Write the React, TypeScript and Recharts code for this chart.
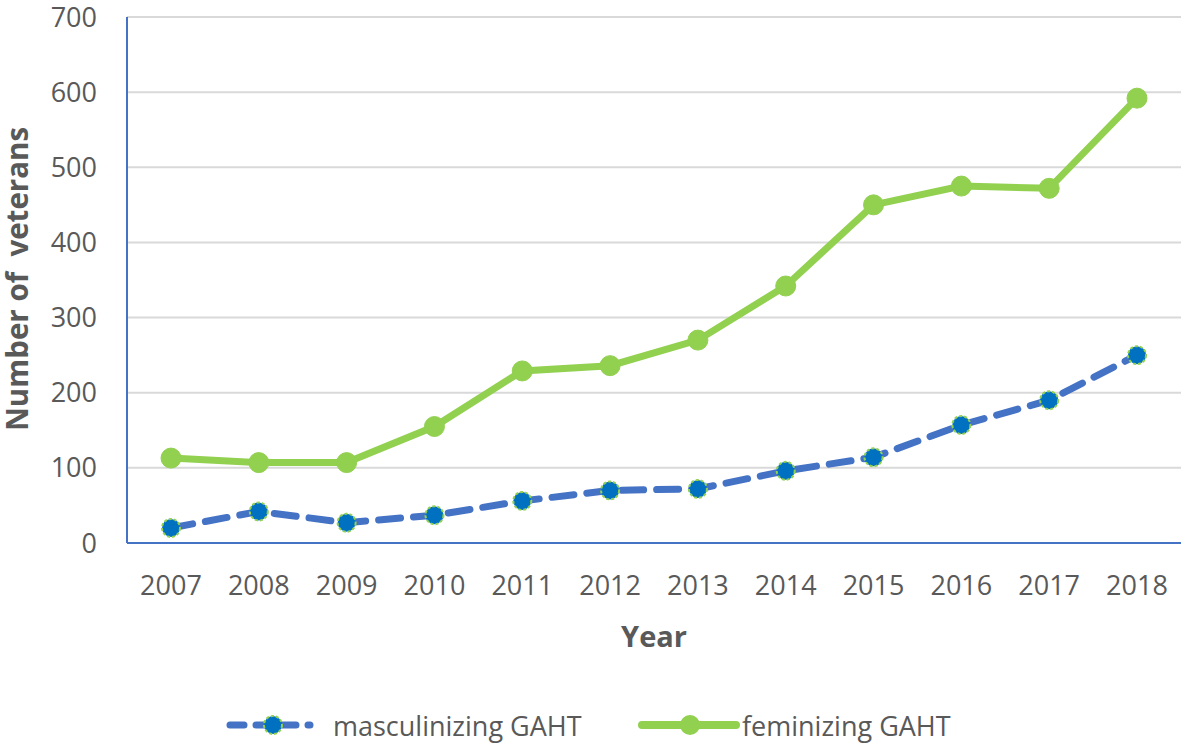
import React from "react";
import { LineChart, Line, XAxis, YAxis, CartesianGrid, Legend, Label } from "recharts";

const years = ["2007", "2008", "2009", "2010", "2011", "2012", "2013", "2014", "2015", "2016", "2017", "2018"];
const masculinizing = [20, 42, 27, 37, 56, 70, 72, 96, 114, 157, 190, 250];
const feminizing = [113, 107, 107, 155, 229, 236, 270, 342, 450, 475, 472, 592];
const yTicks = [0, 100, 200, 300, 400, 500, 600, 700];

const data = years.map((year, i) => ({ year, masc: masculinizing[i], fem: feminizing[i] }));

const FONT = "'Open Sans', sans-serif";
const TEXT = "#595959";
const GREEN = "#92D050";
const BLUE = "#4472C4";
const DOT_BLUE = "#0070C0";

const MascDot = (props: any) => {
  const { cx, cy, index } = props;
  if (cx == null || cy == null) return null;
  return (
    <circle key={`m${index}`} cx={cx} cy={cy} r={9} fill={DOT_BLUE} stroke={GREEN} strokeWidth={2} strokeDasharray="3 2" />
  );
};

const YLabel = (props: any) => {
  const vb = props.viewBox || {};
  const cx = 16;
  const cy = vb.y + vb.height / 2 - 1;
  return (
    <text
      x={cx}
      y={cy}
      transform={`rotate(-90 ${cx} ${cy})`}
      textAnchor="middle"
      dominantBaseline="central"
      fontFamily={FONT}
      fontSize={29.5}
      fontWeight="bold"
      fill={TEXT}
      style={{ whiteSpace: "pre" }}
    >
      Number of  veterans
    </text>
  );
};

const LegendContent = () => (
  <svg width={1181} height={40}>
    <g>
      <line x1={230} y1={20} x2={310} y2={20} stroke={BLUE} strokeWidth={7} strokeDasharray="14 12" strokeLinecap="round" />
      <circle cx={273} cy={20} r={9} fill={DOT_BLUE} stroke={GREEN} strokeWidth={2} strokeDasharray="3 2" />
      <text x={333} y={20} dominantBaseline="central" fontFamily={FONT} fontSize={27} fill={TEXT}>
        masculinizing GAHT
      </text>
    </g>
    <g>
      <line x1={642} y1={20} x2={736} y2={20} stroke={GREEN} strokeWidth={8} strokeLinecap="round" />
      <circle cx={690} cy={20} r={10} fill={GREEN} />
      <text x={742} y={20} dominantBaseline="central" fontFamily={FONT} fontSize={27} fill={TEXT}>
        feminizing GAHT
      </text>
    </g>
  </svg>
);

export default function App() {
  return (
    <div style={{ position: "absolute", left: 0, top: 0, width: 1181, height: 749, background: "#fff" }}>
      <LineChart width={1181} height={749} data={data} margin={{ top: 17, right: 0, left: 0, bottom: 96 }}>
        <CartesianGrid vertical={false} stroke="#D9D9D9" strokeWidth={2} />
        <XAxis
          dataKey="year"
          height={110}
          padding={{ left: 44, right: 44 }}
          axisLine={{ stroke: BLUE, strokeWidth: 2 }}
          tickLine={false}
          tickSize={0}
          tickMargin={33}
          tick={{ fontFamily: FONT, fontSize: 27, fill: TEXT }}
        >
          <Label value="Year" position="insideBottom" offset={6} fontFamily={FONT} fontSize={29} fontWeight="bold" fill={TEXT} />
        </XAxis>
        <YAxis
          width={127}
          domain={[0, 700]}
          ticks={yTicks}
          interval={0}
          axisLine={{ stroke: BLUE, strokeWidth: 2 }}
          tickLine={false}
          tickSize={0}
          tickMargin={30}
          tick={{ fontFamily: FONT, fontSize: 27, fill: TEXT }}
        >
          <Label content={YLabel} />
        </YAxis>
        <Legend
          layout="horizontal"
          verticalAlign="middle"
          align="center"
          content={LegendContent}
          wrapperStyle={{ top: 705, left: 0, width: 1181, height: 40 }}
        />
        <Line
          dataKey="masc"
          name="masculinizing GAHT"
          stroke={BLUE}
          strokeWidth={7}
          strokeDasharray="22 13"
          strokeLinecap="round"
          dot={MascDot}
          activeDot={false}
          isAnimationActive={false}
        />
        <Line
          dataKey="fem"
          name="feminizing GAHT"
          stroke={GREEN}
          strokeWidth={7}
          dot={{ r: 10, fill: GREEN, stroke: GREEN, strokeWidth: 1 }}
          activeDot={false}
          isAnimationActive={false}
        />
      </LineChart>
    </div>
  );
}
